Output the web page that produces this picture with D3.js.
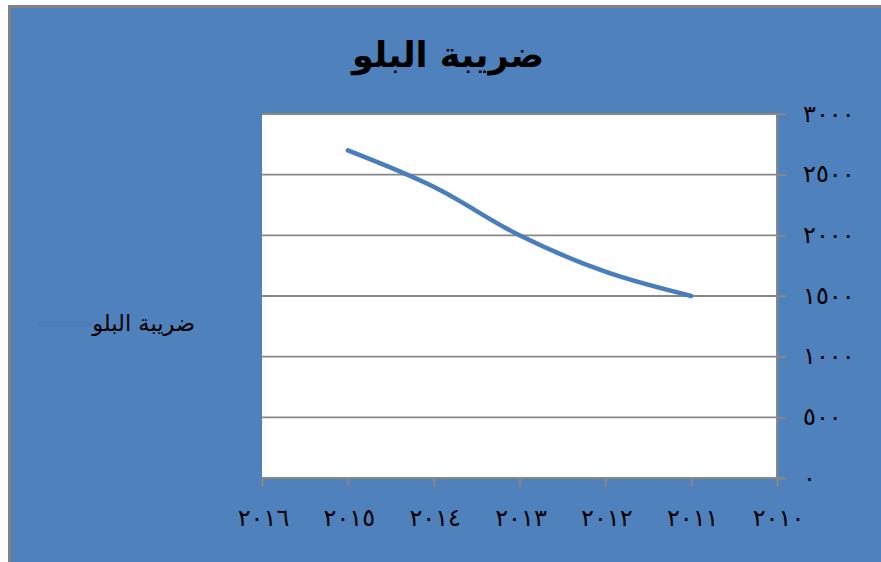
<!DOCTYPE html>
<html><head><meta charset="utf-8">
<script src="https://cdn.jsdelivr.net/npm/d3@7"></script>
<style>html,body{margin:0;padding:0;background:#fff;}svg{display:block;}</style>
</head><body><svg id="c" width="881" height="562"></svg>
<script>
const title = "ضريبة البلو";
const seriesName = "ضريبة البلو";
const years = [2016, 2015, 2014, 2013, 2012, 2011, 2010];
const yearLabels = ["٢٠١٦", "٢٠١٥", "٢٠١٤", "٢٠١٣", "٢٠١٢", "٢٠١١", "٢٠١٠"];
const values = [null, 2700, 2400, 2000, 1700, 1500, null];
const yTicks = [0, 500, 1000, 1500, 2000, 2500, 3000];
const yTickLabels = ["٠", "٥٠٠", "١٠٠٠", "١٥٠٠", "٢٠٠٠", "٢٥٠٠", "٣٠٠٠"];

const svg = d3.select("#c");
const bg = "#4F81BD";
const grid = "#878787";

svg.append("rect").attr("x", 9.5).attr("y", 6.5).attr("width", 900).attr("height", 600)
  .attr("fill", bg).attr("stroke", "#828282").attr("stroke-width", 3);

const L = 262, R = 777, T = 114, B = 478;
const x = d3.scalePoint().domain(years).range([L, R]).padding(0);
const y = d3.scaleLinear().domain([0, 3000]).range([B, T]);

svg.append("rect").attr("x", L).attr("y", T).attr("width", R - L).attr("height", B - T).attr("fill", "#fff");

// gridlines
svg.append("g").selectAll("line").data(yTicks.filter(d => d > 0)).join("line")
  .attr("x1", L).attr("x2", R).attr("y1", d => y(d)).attr("y2", d => y(d))
  .attr("stroke", grid).attr("stroke-width", 1.8);

// right y axis
const yAxis = d3.axisRight(y).tickValues(yTicks).tickSize(9).tickFormat((d, i) => yTickLabels[i]);
const gy = svg.append("g").attr("transform", `translate(${R},0)`).call(yAxis);
gy.select(".domain").attr("stroke", grid).attr("stroke-width", 2).attr("d", `M0,${T}V${B}`);
gy.selectAll(".tick line").attr("stroke", grid).attr("stroke-width", 2);
gy.selectAll(".tick text").attr("x", 26).attr("dy", "0.3em").attr("text-anchor", "start")
  .attr("fill", "#000").style("font-family", "DejaVu Sans, sans-serif").style("font-size", "24px")
  .style("letter-spacing", "6px");

// bottom x axis
const xAxis = d3.axisBottom(x).tickSize(9).tickFormat((d, i) => yearLabels[i]);
const gx = svg.append("g").attr("transform", `translate(0,${B})`).call(xAxis);
gx.select(".domain").attr("stroke", grid).attr("stroke-width", 2).attr("d", `M${L},0H${R + 8}`);
gx.selectAll(".tick line").attr("stroke", grid).attr("stroke-width", 2);
gx.selectAll(".tick text").attr("y", 31).attr("dx", 1).attr("fill", "#000")
  .style("font-family", "DejaVu Sans, sans-serif").style("font-size", "24px")
  .style("letter-spacing", "9px");

// line
const pts = years.map((yr, i) => ({yr, v: values[i]})).filter(d => d.v !== null);
const line = d3.line().x(d => x(d.yr)).y(d => y(d.v)).curve(d3.curveCatmullRom.alpha(0.5));
svg.append("path").datum(pts).attr("d", line).attr("fill", "none")
  .attr("stroke", "#4A7EBB").attr("stroke-width", 4.5).attr("stroke-linecap", "round").attr("stroke-linejoin", "round");

// title
svg.append("text").attr("x", 448).attr("y", 67).attr("text-anchor", "middle")
  .style("font-family", "DejaVu Sans, sans-serif").style("font-weight", "bold").style("font-size", "35px")
  .attr("fill", "#000").text(title);

// legend
svg.append("line").attr("x1", 38).attr("x2", 92).attr("y1", 324).attr("y2", 324)
  .attr("stroke", "#4A7EBB").attr("stroke-width", 4.5);
svg.append("text").attr("x", 195).attr("y", 331).attr("text-anchor", "end")
  .style("font-family", "DejaVu Sans, sans-serif").style("font-size", "22.5px")
  .attr("fill", "#000").text(seriesName);
</script></body></html>
